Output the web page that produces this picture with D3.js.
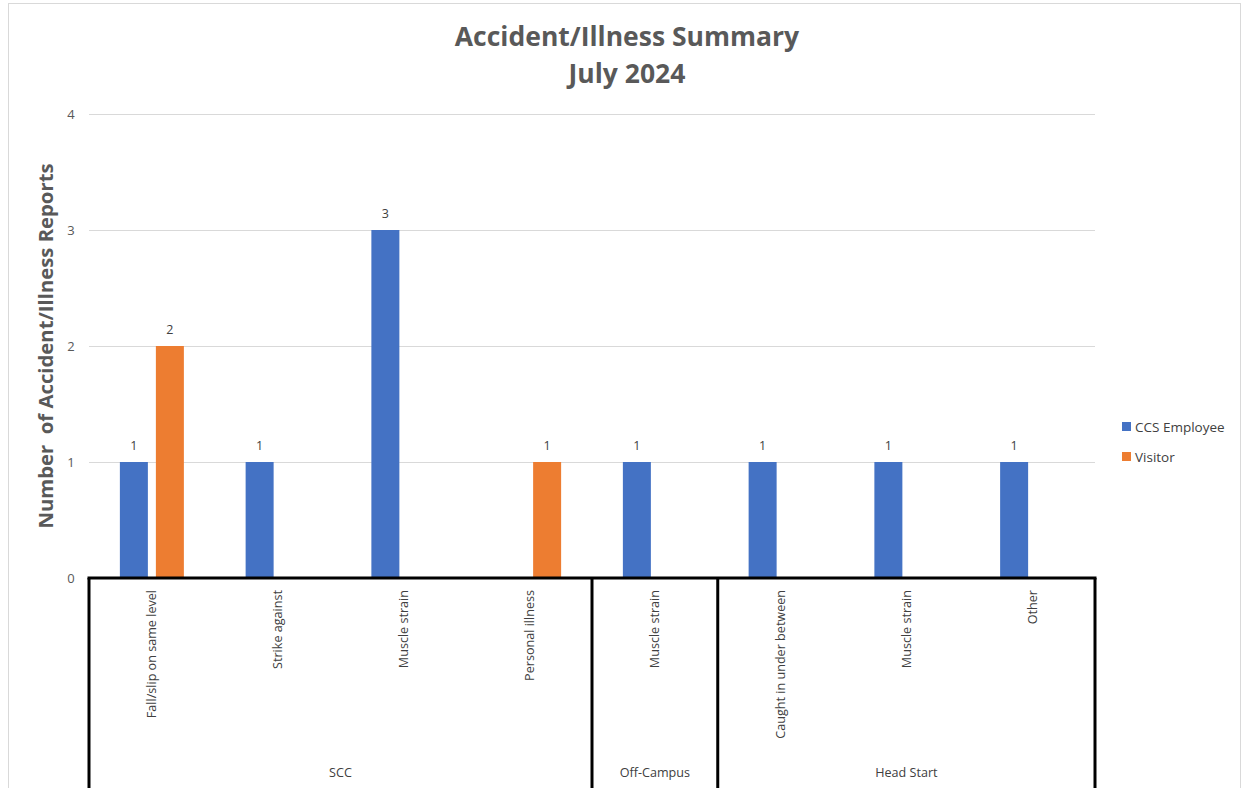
<html>
<head>
<script src="https://d3js.org/d3.v7.min.js"></script>
<style>
  body { margin: 0; background: #fff; }
  text { font-family: "Open Sans", Lato, sans-serif; }
</style>
</head>
<body>
<svg id="chart" width="1242" height="788"></svg>
<script>
// chart values
var categories = ["Fall/slip on same level", "Strike against", "Muscle strain", "Personal illness",
                  "Muscle strain", "Caught in under between", "Muscle strain", "Other"];
var groups = ["SCC", "SCC", "SCC", "SCC", "Off-Campus", "Head Start", "Head Start", "Head Start"];
var employee = [1, 1, 3, null, 1, 1, 1, 1];
var visitor = [2, null, null, 1, null, null, null, null];
var seriesNames = ["CCS Employee", "Visitor"];
var colors = ["#4472c4", "#ed7d31"];
var yTicks = [0, 1, 2, 3, 4];

var svg = d3.select("#chart");

// outer frame
svg.append("rect").attr("x", 8.5).attr("y", 3.5).attr("width", 1232).attr("height", 790)
  .attr("fill", "none").attr("stroke", "#d9d9d9");

var plotLeft = 89, plotRight = 1095, plotTop = 114, plotBottom = 578;

var x = d3.scaleBand().domain(d3.range(categories.length)).range([plotLeft, plotRight]);
var y = d3.scaleLinear().domain([0, 4]).range([plotBottom, plotTop]);
var barW = 28, gap = 8;

// gridlines
svg.append("g").selectAll("line").data(yTicks.slice(1)).enter().append("line")
  .attr("x1", plotLeft).attr("x2", plotRight)
  .attr("y1", function(d) { return y(d) + 0.5; }).attr("y2", function(d) { return y(d) + 0.5; })
  .attr("stroke", "#d9d9d9").attr("stroke-width", 1);

// y tick labels
svg.append("g").selectAll("text").data(yTicks).enter().append("text")
  .attr("x", 71).attr("y", function(d) { return y(d); }).attr("dy", "0.35em")
  .attr("text-anchor", "middle").attr("font-size", "13px").attr("fill", "#595959")
  .text(function(d) { return d; });

// bars
var series = [employee, visitor];
series.forEach(function(vals, s) {
  var g = svg.append("g");
  var data = vals.map(function(v, i) { return {v: v, i: i}; }).filter(function(d) { return d.v != null; });
  g.selectAll("rect").data(data).enter().append("rect")
    .attr("x", function(d) { return x(d.i) + x.bandwidth() / 2 - barW - gap / 2 + s * (barW + gap); })
    .attr("y", function(d) { return y(d.v); })
    .attr("width", barW)
    .attr("height", function(d) { return plotBottom - y(d.v); })
    .attr("fill", colors[s]);
  g.selectAll("text").data(data).enter().append("text")
    .attr("x", function(d) { return x(d.i) + x.bandwidth() / 2 - barW / 2 - gap / 2 + s * (barW + gap); })
    .attr("y", function(d) { return y(d.v) - 12; })
    .attr("text-anchor", "middle").attr("font-size", "12.5px").attr("fill", "#404040")
    .text(function(d) { return d.v; });
});

// axis lines and group separators
var axisG = svg.append("g").attr("stroke", "#000").attr("stroke-width", 3);
axisG.append("line").attr("x1", plotLeft - 1.5).attr("x2", plotRight + 1.5).attr("y1", plotBottom).attr("y2", plotBottom);
var groupNames = [];
groups.forEach(function(g, i) {
  if (!groupNames.length || groupNames[groupNames.length - 1].name !== g) groupNames.push({name: g, start: i, end: i});
  else groupNames[groupNames.length - 1].end = i;
});
var seps = [plotLeft].concat(groupNames.map(function(g) { return x(g.end) + x.bandwidth(); }));
axisG.selectAll(".sep").data(seps).enter().append("line")
  .attr("x1", function(d) { return d; }).attr("x2", function(d) { return d; })
  .attr("y1", plotBottom).attr("y2", 788);

// category labels
svg.append("g").selectAll("text").data(categories).enter().append("text")
  .attr("transform", function(d, i) { return "translate(" + (x(i) + x.bandwidth() / 2 + 4.5) + ",590) rotate(-90)"; })
  .attr("text-anchor", "end").attr("font-size", "12.6px").attr("fill", "#404040")
  .text(function(d) { return d; });

// group labels
svg.append("g").selectAll("text").data(groupNames).enter().append("text")
  .attr("x", function(d) { return (x(d.start) + x(d.end) + x.bandwidth()) / 2; })
  .attr("y", 777).attr("text-anchor", "middle").attr("font-size", "12.6px").attr("fill", "#404040")
  .text(function(d) { return d.name; });

// title
svg.append("text").attr("x", 627).attr("y", 46).attr("text-anchor", "middle")
  .attr("font-size", "26.5px").attr("font-weight", "bold").attr("fill", "#595959")
  .text("Accident/Illness Summary");
svg.append("text").attr("x", 627).attr("y", 83).attr("text-anchor", "middle")
  .attr("font-size", "26.5px").attr("font-weight", "bold").attr("fill", "#595959")
  .text("July 2024");

// y axis title
svg.append("text").attr("transform", "translate(53,346) rotate(-90)").attr("text-anchor", "middle")
  .attr("font-size", "20.3px").attr("font-weight", "bold").attr("fill", "#595959")
  .attr("xml:space", "preserve")
  .text("Number  of Accident/Illness Reports");

// legend
var leg = svg.append("g").selectAll("g").data(seriesNames).enter().append("g")
  .attr("transform", function(d, i) { return "translate(1122," + (427 + i * 30) + ")"; });
leg.append("rect").attr("x", 0).attr("y", -5).attr("width", 9).attr("height", 9)
  .attr("fill", function(d, i) { return colors[i]; });
leg.append("text").attr("x", 13).attr("y", 0).attr("dy", "0.35em")
  .attr("font-size", "13.5px").attr("fill", "#404040").text(function(d) { return d; });
</script>
</body>
</html>
